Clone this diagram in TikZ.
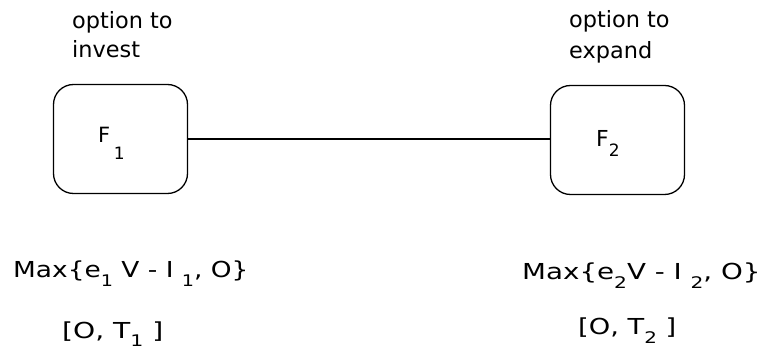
\documentclass[tikz,border=0pt]{standalone}
\usepackage{fontspec}
\setmainfont{DejaVu Sans}
\newcommand{\fsub}[3][16]{\raisebox{-#2pt}{\fontsize{#1}{#1}\selectfont #3}}
\newcommand{\wide}[2]{\scalebox{#1}[1]{#2}}
\begin{document}
\begin{tikzpicture}[x=1pt,y=-1pt,
  optbox/.style={draw, line width=1.3pt, rounded corners=20pt, minimum width=134pt, minimum height=109pt, inner sep=0pt},
  lbl/.style={align=left, font=\fontsize{22.4}{26}\selectfont, inner sep=0pt, anchor=base west},
  formula/.style={font=\fontsize{22}{22}\selectfont, inner sep=0pt, anchor=base west}]
\useasboundingbox (0,0) rectangle (768,352);
\node[optbox] (f1) at (120.5,139) {};
\node[optbox] (f2) at (617.5,140) {};
\node[font=\fontsize{21}{21}\selectfont, inner sep=0pt, anchor=base west] (f1t) at (98,143) {F\hspace{3.5pt}\fsub[17]{17}{1}};
\node[font=\fontsize{22}{22}\selectfont, inner sep=0pt, anchor=base west] (f2t) at (596,147) {F\fsub[17]{10}{2}};
\draw[line width=1.3pt] (f1.east) -- (f1.east -| f2.west);
\node[lbl] (l1a) at (72,29) {option to};
\node[lbl] (l1b) at (72,58) {invest};
\node[lbl] (l2a) at (569,28) {option to};
\node[lbl] (l2b) at (569,59) {expand};
\node[formula] (m1) at (13,278) {\wide{1.2}{Max\{e\fsub{9}{1} V - I \fsub{9}{1}, O\}}};
\node[formula] (m2) at (522,280) {\wide{1.26}{Max\{e\fsub{9}{2}V - I \fsub{9}{2}, O\}}};
\node[formula] (t1) at (62,338) {\wide{1.28}{[O, T\fsub{9}{1} ]}};
\node[formula] (t2) at (578,335) {\wide{1.24}{[O, T\fsub{9}{2} ]}};
\end{tikzpicture}
\end{document}
